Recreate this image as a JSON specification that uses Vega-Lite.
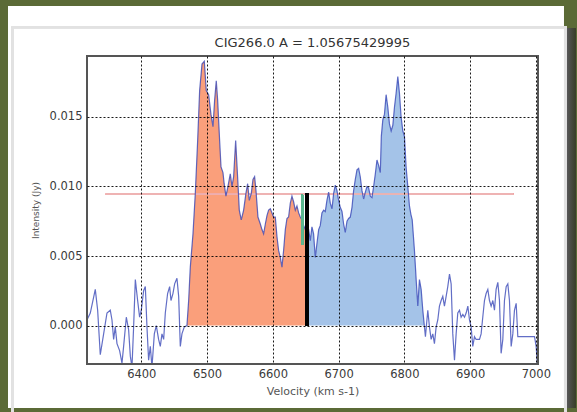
{
  "$schema": "https://vega.github.io/schema/vega-lite/v6.json",
  "width": 451,
  "height": 308,
  "autosize": {"type": "none"},
  "padding": {"left": 87, "top": 56, "right": 39, "bottom": 48},
  "background": "#5b6a36",
  "title": {
    "text": "CIG266.0 A = 1.05675429995",
    "font": "DejaVu Sans",
    "fontSize": 13,
    "fontWeight": "normal",
    "color": "#333333",
    "offset": -44
  },
  "config": {
    "view": {"stroke": null},
    "axis": {
      "labelFont": "DejaVu Sans",
      "titleFont": "DejaVu Sans",
      "labelColor": "#3a3a3a",
      "titleColor": "#555555",
      "titleFontWeight": "normal",
      "grid": true,
      "gridColor": "#000000",
      "gridDash": [2, 2],
      "gridOpacity": 0.9,
      "domain": false,
      "ticks": false
    }
  },
  "data": {
    "values": [
      {"v": 6317.3, "flux": 0.0004}, {"v": 6322.4, "flux": 0.0009}, {"v": 6330.0, "flux": 0.0026},
      {"v": 6333.6, "flux": 0.0011}, {"v": 6337.6, "flux": -0.0021}, {"v": 6342.7, "flux": -0.0006},
      {"v": 6347.8, "flux": 0.0009}, {"v": 6352.8, "flux": 0.0011}, {"v": 6355.4, "flux": 0.0004},
      {"v": 6357.9, "flux": -0.0010}, {"v": 6360.4, "flux": -0.0001}, {"v": 6363.0, "flux": -0.0013},
      {"v": 6367.0, "flux": -0.0018}, {"v": 6370.6, "flux": -0.0027}, {"v": 6373.1, "flux": -0.0015},
      {"v": 6377.2, "flux": 0.0006}, {"v": 6380.7, "flux": -0.0003}, {"v": 6383.3, "flux": -0.0022},
      {"v": 6385.8, "flux": -0.0030}, {"v": 6388.3, "flux": -0.0001}, {"v": 6390.9, "flux": 0.0033},
      {"v": 6394.4, "flux": 0.0018}, {"v": 6397.4, "flux": 0.0006}, {"v": 6400.0, "flux": 0.0011},
      {"v": 6403.5, "flux": 0.0025}, {"v": 6406.1, "flux": 0.0028}, {"v": 6408.6, "flux": -0.0001},
      {"v": 6411.1, "flux": -0.0025}, {"v": 6413.7, "flux": -0.0015}, {"v": 6416.2, "flux": -0.0030},
      {"v": 6419.8, "flux": -0.0006}, {"v": 6422.8, "flux": 0.0000}, {"v": 6426.3, "flux": -0.0010},
      {"v": 6428.9, "flux": -0.0015}, {"v": 6431.4, "flux": -0.0006}, {"v": 6434.0, "flux": -0.0010},
      {"v": 6436.5, "flux": 0.0009}, {"v": 6440.0, "flux": 0.0023}, {"v": 6443.1, "flux": 0.0028},
      {"v": 6445.1, "flux": 0.0018}, {"v": 6448.1, "flux": 0.0023}, {"v": 6450.7, "flux": 0.0030},
      {"v": 6454.2, "flux": 0.0034}, {"v": 6456.8, "flux": 0.0021}, {"v": 6459.3, "flux": -0.0015},
      {"v": 6461.8, "flux": -0.0006}, {"v": 6465.4, "flux": -0.0001}, {"v": 6469.4, "flux": 0.0000},
      {"v": 6472.0, "flux": 0.0018}, {"v": 6474.5, "flux": 0.0042}, {"v": 6478.6, "flux": 0.0066},
      {"v": 6482.1, "flux": 0.0095}, {"v": 6485.7, "flux": 0.0133}, {"v": 6488.7, "flux": 0.0169},
      {"v": 6492.3, "flux": 0.0188}, {"v": 6495.8, "flux": 0.0190}, {"v": 6498.8, "flux": 0.0169},
      {"v": 6502.4, "flux": 0.0166}, {"v": 6505.9, "flux": 0.0152}, {"v": 6509.0, "flux": 0.0143},
      {"v": 6511.5, "flux": 0.0162}, {"v": 6514.0, "flux": 0.0176}, {"v": 6516.1, "flux": 0.0162},
      {"v": 6519.1, "flux": 0.0133}, {"v": 6521.2, "flux": 0.0114}, {"v": 6524.2, "flux": 0.0110},
      {"v": 6526.0, "flux": 0.0102}, {"v": 6528.7, "flux": 0.0093}, {"v": 6531.8, "flux": 0.0100},
      {"v": 6535.3, "flux": 0.0109}, {"v": 6537.9, "flux": 0.0100}, {"v": 6540.4, "flux": 0.0107},
      {"v": 6543.5, "flux": 0.0133}, {"v": 6547.0, "flux": 0.0102}, {"v": 6549.0, "flux": 0.0083},
      {"v": 6552.0, "flux": 0.0076}, {"v": 6555.6, "flux": 0.0083}, {"v": 6559.1, "flux": 0.0095},
      {"v": 6561.7, "flux": 0.0102}, {"v": 6564.2, "flux": 0.0090}, {"v": 6567.3, "flux": 0.0095},
      {"v": 6569.8, "flux": 0.0105}, {"v": 6572.3, "flux": 0.0107}, {"v": 6574.4, "flux": 0.0097},
      {"v": 6577.4, "flux": 0.0078}, {"v": 6581.0, "flux": 0.0073}, {"v": 6583.5, "flux": 0.0069},
      {"v": 6586.0, "flux": 0.0066}, {"v": 6588.6, "flux": 0.0073}, {"v": 6591.1, "flux": 0.0079},
      {"v": 6593.6, "flux": 0.0083}, {"v": 6596.2, "flux": 0.0084}, {"v": 6598.7, "flux": 0.0081},
      {"v": 6601.2, "flux": 0.0078}, {"v": 6603.8, "flux": 0.0078}, {"v": 6606.3, "flux": 0.0064},
      {"v": 6608.8, "flux": 0.0054}, {"v": 6611.4, "flux": 0.0049}, {"v": 6613.9, "flux": 0.0042},
      {"v": 6616.4, "flux": 0.0054}, {"v": 6619.0, "flux": 0.0069}, {"v": 6621.5, "flux": 0.0077},
      {"v": 6624.0, "flux": 0.0078}, {"v": 6626.6, "flux": 0.0088}, {"v": 6629.1, "flux": 0.0093},
      {"v": 6631.6, "flux": 0.0089}, {"v": 6634.2, "flux": 0.0083}, {"v": 6636.7, "flux": 0.0086},
      {"v": 6639.3, "flux": 0.0081}, {"v": 6641.8, "flux": 0.0078}, {"v": 6644.3, "flux": 0.0076},
      {"v": 6646.9, "flux": 0.0072}, {"v": 6649.4, "flux": 0.0069}, {"v": 6652.0, "flux": 0.0069},
      {"v": 6654.5, "flux": 0.0069}, {"v": 6657.0, "flux": 0.0061}, {"v": 6659.5, "flux": 0.0071},
      {"v": 6662.0, "flux": 0.0066}, {"v": 6664.6, "flux": 0.0049}, {"v": 6667.1, "flux": 0.0059},
      {"v": 6669.7, "flux": 0.0069}, {"v": 6672.2, "flux": 0.0072}, {"v": 6674.7, "flux": 0.0081},
      {"v": 6677.3, "flux": 0.0083}, {"v": 6679.8, "flux": 0.0082}, {"v": 6682.3, "flux": 0.0090},
      {"v": 6684.9, "flux": 0.0096}, {"v": 6687.4, "flux": 0.0088}, {"v": 6690.0, "flux": 0.0084},
      {"v": 6692.5, "flux": 0.0095}, {"v": 6695.0, "flux": 0.0101}, {"v": 6697.6, "flux": 0.0097},
      {"v": 6700.1, "flux": 0.0090}, {"v": 6702.6, "flux": 0.0085}, {"v": 6705.2, "flux": 0.0082},
      {"v": 6707.7, "flux": 0.0073}, {"v": 6710.2, "flux": 0.0067}, {"v": 6712.8, "flux": 0.0075},
      {"v": 6715.3, "flux": 0.0077}, {"v": 6717.8, "flux": 0.0078}, {"v": 6720.4, "flux": 0.0085},
      {"v": 6722.9, "flux": 0.0097}, {"v": 6725.4, "flux": 0.0105}, {"v": 6728.0, "flux": 0.0112},
      {"v": 6730.5, "flux": 0.0113}, {"v": 6733.0, "flux": 0.0107}, {"v": 6735.6, "flux": 0.0097},
      {"v": 6738.1, "flux": 0.0091}, {"v": 6740.7, "flux": 0.0096}, {"v": 6743.2, "flux": 0.0100},
      {"v": 6745.7, "flux": 0.0099}, {"v": 6748.3, "flux": 0.0093}, {"v": 6750.8, "flux": 0.0092},
      {"v": 6753.3, "flux": 0.0100}, {"v": 6755.9, "flux": 0.0109}, {"v": 6758.4, "flux": 0.0119},
      {"v": 6761.0, "flux": 0.0115}, {"v": 6763.5, "flux": 0.0110}, {"v": 6765.0, "flux": 0.0136},
      {"v": 6767.3, "flux": 0.0148}, {"v": 6769.8, "flux": 0.0152}, {"v": 6772.3, "flux": 0.0166},
      {"v": 6774.9, "flux": 0.0157}, {"v": 6777.4, "flux": 0.0145}, {"v": 6780.0, "flux": 0.0140},
      {"v": 6782.5, "flux": 0.0144}, {"v": 6785.0, "flux": 0.0157}, {"v": 6787.5, "flux": 0.0167},
      {"v": 6790.1, "flux": 0.0179}, {"v": 6792.6, "flux": 0.0167}, {"v": 6795.1, "flux": 0.0150},
      {"v": 6797.7, "flux": 0.0140}, {"v": 6800.2, "flux": 0.0136}, {"v": 6802.7, "flux": 0.0114},
      {"v": 6805.3, "flux": 0.0100}, {"v": 6807.8, "flux": 0.0086}, {"v": 6810.0, "flux": 0.0080},
      {"v": 6812.0, "flux": 0.0076}, {"v": 6815.4, "flux": 0.0054}, {"v": 6818.0, "flux": 0.0033},
      {"v": 6820.5, "flux": 0.0014}, {"v": 6823.0, "flux": 0.0033}, {"v": 6825.6, "flux": 0.0026},
      {"v": 6828.1, "flux": 0.0011}, {"v": 6830.6, "flux": -0.0001}, {"v": 6832.1, "flux": -0.0008},
      {"v": 6835.7, "flux": 0.0011}, {"v": 6838.2, "flux": -0.0001}, {"v": 6840.8, "flux": -0.0010},
      {"v": 6843.3, "flux": -0.0006}, {"v": 6845.8, "flux": -0.0013}, {"v": 6848.4, "flux": -0.0001},
      {"v": 6850.9, "flux": 0.0004}, {"v": 6853.4, "flux": 0.0014}, {"v": 6856.0, "flux": 0.0018},
      {"v": 6858.5, "flux": 0.0021}, {"v": 6861.0, "flux": 0.0014}, {"v": 6863.6, "flux": 0.0021},
      {"v": 6866.1, "flux": 0.0028}, {"v": 6868.7, "flux": 0.0037}, {"v": 6871.2, "flux": 0.0030},
      {"v": 6873.7, "flux": -0.0006}, {"v": 6876.3, "flux": -0.0025}, {"v": 6878.8, "flux": -0.0006},
      {"v": 6881.3, "flux": 0.0009}, {"v": 6883.9, "flux": 0.0011}, {"v": 6886.4, "flux": 0.0006},
      {"v": 6889.0, "flux": 0.0008}, {"v": 6891.5, "flux": 0.0006}, {"v": 6894.0, "flux": 0.0009},
      {"v": 6896.6, "flux": 0.0014}, {"v": 6899.1, "flux": 0.0004}, {"v": 6901.6, "flux": -0.0001},
      {"v": 6904.1, "flux": -0.0015}, {"v": 6906.7, "flux": -0.0008}, {"v": 6909.2, "flux": -0.0010},
      {"v": 6911.7, "flux": -0.0010}, {"v": 6914.3, "flux": -0.0010}, {"v": 6916.8, "flux": -0.0006},
      {"v": 6919.3, "flux": 0.0006}, {"v": 6921.9, "flux": 0.0018}, {"v": 6924.4, "flux": 0.0023},
      {"v": 6927.0, "flux": 0.0026}, {"v": 6929.5, "flux": 0.0018}, {"v": 6932.0, "flux": 0.0014},
      {"v": 6934.6, "flux": 0.0018}, {"v": 6937.1, "flux": 0.0011}, {"v": 6939.6, "flux": 0.0026},
      {"v": 6942.2, "flux": 0.0031}, {"v": 6944.7, "flux": 0.0018}, {"v": 6947.2, "flux": -0.0020},
      {"v": 6949.8, "flux": -0.0010}, {"v": 6952.3, "flux": 0.0018}, {"v": 6954.9, "flux": 0.0028},
      {"v": 6957.4, "flux": 0.0030}, {"v": 6959.9, "flux": 0.0018}, {"v": 6962.5, "flux": -0.0015},
      {"v": 6965.0, "flux": -0.0006}, {"v": 6967.5, "flux": 0.0011}, {"v": 6970.1, "flux": 0.0016},
      {"v": 6972.6, "flux": -0.0008}, {"v": 6998.0, "flux": -0.0008}, {"v": 7000.5, "flux": -0.0015},
      {"v": 7001.5, "flux": -0.0022}, {"v": 7002.5, "flux": -0.0030}
    ]
  },
  "encoding": {
    "x": {
      "field": "v",
      "type": "quantitative",
      "scale": {"domain": [6317.4, 7003.3], "nice": false, "zero": false},
      "axis": {
        "values": [6400, 6500, 6600, 6700, 6800, 6900, 7000],
        "format": "d",
        "labelFontSize": 11.5,
        "labelPadding": 4,
        "title": "Velocity (km s-1)",
        "titleFontSize": 11,
        "titlePadding": 6,
        "zindex": 1
      }
    },
    "y": {
      "field": "flux",
      "type": "quantitative",
      "scale": {"domain": [-0.002766, 0.019382], "nice": false, "zero": false},
      "axis": {
        "values": [0, 0.005, 0.01, 0.015],
        "format": ".3f",
        "labelFontSize": 11.5,
        "labelPadding": 5,
        "title": "Intensity (Jy)",
        "titleFontSize": 9,
        "titlePadding": 9,
        "zindex": 1
      }
    }
  },
  "layer": [
    {
      "description": "card drop shadow on the right",
      "mark": {
        "type": "rect",
        "color": {
          "gradient": "linear", "x1": 0, "x2": 1, "y1": 0, "y2": 0,
          "stops": [
            {"offset": 0, "color": "#bdbdbd"},
            {"offset": 0.35, "color": "#555555"},
            {"offset": 1, "color": "#3a3f2a"}
          ]
        }
      },
      "encoding": {
        "x": {"datum": 7041.8},
        "x2": {"datum": 7060.1},
        "y": {"datum": 0.021372},
        "y2": {"datum": -0.005927}
      }
    },
    {
      "description": "white card behind the figure",
      "mark": {"type": "rect", "color": "#ffffff"},
      "encoding": {
        "x": {"datum": 6197.7},
        "x2": {"datum": 7041.8},
        "y": {"datum": 0.022953},
        "y2": {"datum": -0.005927}
      }
    },
    {
      "description": "faint inner edge of the figure image",
      "mark": {"type": "rect", "fill": null, "stroke": "#e2e2e2", "strokeWidth": 2},
      "encoding": {
        "x": {"datum": 6203.8},
        "x2": {"datum": 7045},
        "y": {"datum": 0.021444},
        "y2": {"datum": -0.0065}
      }
    },
    {
      "transform": [{"filter": {"field": "v", "range": [6469, 6652]}}],
      "mark": {"type": "area", "color": "#fa9f7b", "opacity": 1},
      "encoding": {"y2": {"datum": 0}}
    },
    {
      "transform": [{"filter": {"field": "v", "range": [6652, 6831]}}],
      "mark": {"type": "area", "color": "#a4c3e8", "opacity": 1},
      "encoding": {"y2": {"datum": 0}}
    },
    {
      "description": "half-peak level",
      "mark": {"type": "rule", "color": "#f2b3b3", "strokeWidth": 1, "opacity": 0.3},
      "encoding": {
        "x": {"datum": 6345},
        "x2": {"datum": 6966},
        "y": {"datum": 0.00945}
      }
    },
    {
      "mark": {"type": "line", "color": "#2e3db3", "strokeWidth": 1.2, "opacity": 0.75, "clip": true},
      "encoding": {}
    },
    {
      "mark": {"type": "rule", "color": "#5cb890", "strokeWidth": 1.5, "opacity": 0.8},
      "encoding": {
        "x": {"datum": 6645},
        "y": {"datum": 0.0058},
        "y2": {"datum": 0.0094}
      }
    },
    {
      "description": "systemic velocity marker",
      "mark": {"type": "rule", "color": "#000000", "strokeWidth": 2.2},
      "encoding": {
        "x": {"datum": 6652},
        "y": {"datum": 0},
        "y2": {"datum": 0.0095}
      }
    },
    {
      "description": "plot frame",
      "mark": {"type": "rect", "fill": null, "stroke": "#555555", "strokeWidth": 1.5},
      "encoding": {
        "x": {"datum": 6317.4},
        "x2": {"datum": 7003.3},
        "y": {"datum": -0.002766},
        "y2": {"datum": 0.019382}
      }
    }
  ]
}
